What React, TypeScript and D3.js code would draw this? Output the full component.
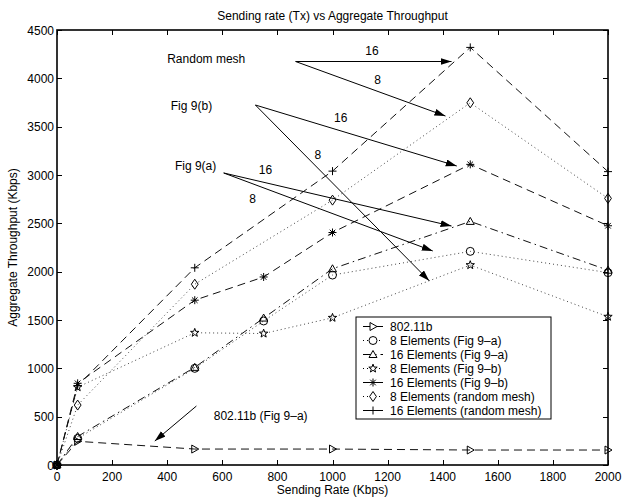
import { useRef, useEffect } from 'react';
import * as d3 from 'd3';

const W = 622;
const H = 498;

// x positions (Kbps) for each series
const rate802 = [0, 75, 500, 1000, 1500, 2000];
const rateGrid = [0, 75, 500, 750, 1000, 1500, 2000];
const rateMesh = [0, 75, 500, 1000, 1500, 2000];

// aggregate throughput (Kbps)
const tput802 = [0, 245, 165, 165, 155, 155];
const fig9a8 = [0, 275, 1000, 1490, 1965, 2210, 1990];
const fig9a16 = [0, 295, 1010, 1520, 2030, 2520, 2015];
const fig9b8 = [0, 805, 1368, 1360, 1523, 2068, 1534];
const fig9b16 = [0, 845, 1705, 1945, 2405, 3110, 2475];
const mesh8 = [0, 620, 1870, 2740, 3747, 2758];
const mesh16 = [0, 820, 2040, 3040, 4320, 3035];

const seriesNames = [
  '802.11b',
  '8 Elements (Fig 9\u2013a)',
  '16 Elements (Fig 9\u2013a)',
  '8 Elements (Fig 9\u2013b)',
  '16 Elements (Fig 9\u2013b)',
  '8 Elements (random mesh)',
  '16 Elements (random mesh)',
];

const xTicks = d3.range(0, 2001, 200);
const yTicks = d3.range(0, 4501, 500);

// annotation text (data coords)
const annoText = [
  { text: 'Random mesh', x: 400, y: 4210, anchor: 'start' },
  { text: 'Fig 9(b)', x: 413, y: 3724, anchor: 'start' },
  { text: 'Fig 9(a)', x: 428, y: 3103, anchor: 'start' },
  { text: '802.11b (Fig 9\u2013a)', x: 569, y: 510, anchor: 'start' },
  { text: '16', x: 1143, y: 4293, anchor: 'middle' },
  { text: '8', x: 1164, y: 3983, anchor: 'middle' },
  { text: '16', x: 1030, y: 3590, anchor: 'middle' },
  { text: '8', x: 947, y: 3207, anchor: 'middle' },
  { text: '16', x: 757, y: 3062, anchor: 'middle' },
  { text: '8', x: 710, y: 2752, anchor: 'middle' },
];

// arrows (data coords): from -> to
const annoArrows = [
  [866, 4174, 1432, 4174],
  [866, 4174, 1410, 3610],
  [720, 3724, 1451, 3093],
  [720, 3724, 1351, 1906],
  [605, 3021, 1432, 2472],
  [605, 3021, 1364, 2214],
  [506, 610, 355, 248],
];

type Marker = 'tri-right' | 'circle' | 'tri-up' | 'star' | 'asterisk' | 'diamond' | 'plus';

function markerPath(m: Marker, r: number): string {
  switch (m) {
    case 'circle':
      return `M${r},0A${r},${r} 0 1,1 ${-r},0A${r},${r} 0 1,1 ${r},0Z`;
    case 'tri-up':
      return `M0,${-r}L${r},${r * 0.75}L${-r},${r * 0.75}Z`;
    case 'tri-right':
      return `M${r},0L${-r * 0.75},${-r}L${-r * 0.75},${r}Z`;
    case 'diamond':
      return `M0,${-r * 1.25}L${r * 0.85},0L0,${r * 1.25}L${-r * 0.85},0Z`;
    case 'plus':
      return `M${-r},0L${r},0M0,${-r}L0,${r}`;
    case 'asterisk': {
      const d = r * 0.7;
      return `M${-r},0L${r},0M0,${-r}L0,${r}M${-d},${-d}L${d},${d}M${-d},${d}L${d},${-d}`;
    }
    case 'star': {
      const pts: string[] = [];
      for (let i = 0; i < 10; i++) {
        const a = -Math.PI / 2 + (i * Math.PI) / 5;
        const rr = i % 2 === 0 ? r * 1.1 : r * 0.45;
        pts.push(`${rr * Math.cos(a)},${rr * Math.sin(a)}`);
      }
      return `M${pts.join('L')}Z`;
    }
  }
}

export default function App() {
  const svgRef = useRef<SVGSVGElement>(null);

  useEffect(() => {
    const svg = d3.select(svgRef.current);
    svg.selectAll('*').remove();

    const font = "'Liberation Sans', Arial, Helvetica, sans-serif";
    const fs = 12;
    const pad = { top: 30, right: 14, bottom: 33, left: 57 };
    const pw = W - pad.left - pad.right;
    const ph = H - pad.top - pad.bottom;

    const x = d3.scaleLinear().domain([0, 2000]).range([pad.left, pad.left + pw]);
    const y = d3.scaleLinear().domain([0, 4500]).range([pad.top + ph, pad.top]);

    svg.append('rect').attr('width', W).attr('height', H).attr('fill', '#fff');

    const defs = svg.append('defs');
    defs.append('marker')
      .attr('id', 'ah').attr('markerUnits', 'userSpaceOnUse')
      .attr('markerWidth', 12).attr('markerHeight', 8)
      .attr('refX', 11).attr('refY', 3.5).attr('orient', 'auto')
      .append('path').attr('d', 'M0,0L11,3.5L0,7Z').attr('fill', '#000');

    // Ticks inward on all four sides
    const tl = 5;
    const tickG = svg.append('g').attr('stroke', '#000').attr('stroke-width', 1);
    xTicks.forEach(t => {
      const xp = Math.round(x(t)) + 0.5;
      tickG.append('line').attr('x1', xp).attr('x2', xp).attr('y1', y(0)).attr('y2', y(0) - tl);
      tickG.append('line').attr('x1', xp).attr('x2', xp).attr('y1', y(4500)).attr('y2', y(4500) + tl);
    });
    yTicks.forEach(t => {
      const yp = Math.round(y(t)) + 0.5;
      tickG.append('line').attr('x1', x(0)).attr('x2', x(0) + tl).attr('y1', yp).attr('y2', yp);
      tickG.append('line').attr('x1', x(2000)).attr('x2', x(2000) - tl).attr('y1', yp).attr('y2', yp);
    });

    // Tick labels
    xTicks.forEach(t => {
      svg.append('text').attr('x', x(t)).attr('y', y(0) + 16)
        .attr('text-anchor', 'middle').attr('font-family', font).attr('font-size', fs)
        .text(t);
    });
    yTicks.forEach(t => {
      svg.append('text').attr('x', x(0) - 3).attr('y', y(t) + 4.5)
        .attr('text-anchor', 'end').attr('font-family', font).attr('font-size', fs)
        .text(t);
    });

    // Series
    const series: { xs: number[]; ys: number[]; dash: string; marker: Marker }[] = [
      { xs: rate802, ys: tput802, dash: '8,5', marker: 'tri-right' },
      { xs: rateGrid, ys: fig9a8, dash: '1,3', marker: 'circle' },
      { xs: rateGrid, ys: fig9a16, dash: '8,4,1.5,4', marker: 'tri-up' },
      { xs: rateGrid, ys: fig9b8, dash: '1,3', marker: 'star' },
      { xs: rateGrid, ys: fig9b16, dash: '8,5', marker: 'asterisk' },
      { xs: rateMesh, ys: mesh8, dash: '1,3', marker: 'diamond' },
      { xs: rateMesh, ys: mesh16, dash: '8,5', marker: 'plus' },
    ];

    const lineGen = d3.line<[number, number]>().x(d => x(d[0])).y(d => y(d[1]));

    series.forEach(s => {
      const pts = s.xs.map((v, i) => [v, s.ys[i]] as [number, number]);
      const isDot = s.dash === '1,3';
      svg.append('path').datum(pts).attr('d', lineGen)
        .attr('fill', 'none').attr('stroke', isDot ? '#444' : '#111')
        .attr('stroke-width', 1).attr('stroke-dasharray', s.dash);
      pts.forEach(p => {
        svg.append('path').attr('d', markerPath(s.marker, 4))
          .attr('transform', `translate(${x(p[0])},${y(p[1])})`)
          .attr('fill', 'none').attr('stroke', '#000').attr('stroke-width', 1);
      });
    });

    // Frame
    svg.append('rect').attr('x', x(0)).attr('y', y(4500))
      .attr('width', x(2000) - x(0)).attr('height', y(0) - y(4500))
      .attr('fill', 'none').attr('stroke', '#000').attr('stroke-width', 1.6);

    // Annotations
    annoArrows.forEach(a => {
      svg.append('line')
        .attr('x1', x(a[0])).attr('y1', y(a[1])).attr('x2', x(a[2])).attr('y2', y(a[3]))
        .attr('stroke', '#000').attr('stroke-width', 1).attr('marker-end', 'url(#ah)');
    });
    annoText.forEach(t => {
      svg.append('text').attr('x', x(t.x)).attr('y', y(t.y) + 4.5)
        .attr('text-anchor', t.anchor).attr('font-family', font).attr('font-size', fs)
        .text(t.text);
    });

    // Legend
    const lg = { x: 356, y: 317, w: 195, h: 102, row: 14 };
    svg.append('rect').attr('x', lg.x).attr('y', lg.y).attr('width', lg.w).attr('height', lg.h)
      .attr('fill', '#fff').attr('stroke', '#000').attr('stroke-width', 1);
    series.forEach((s, i) => {
      const cy = lg.y + 9.5 + i * lg.row;
      svg.append('line').attr('x1', lg.x + 7).attr('x2', lg.x + 27).attr('y1', cy).attr('y2', cy)
        .attr('stroke', '#000').attr('stroke-width', 1)
        .attr('stroke-dasharray', s.dash === '1,3' ? '1,3' : s.dash === '8,5' ? null : '8,4,1.5,4');
      svg.append('path').attr('d', markerPath(s.marker, 4))
        .attr('transform', `translate(${lg.x + 17},${cy})`)
        .attr('fill', '#fff').attr('stroke', '#000').attr('stroke-width', 1);
      svg.append('text').attr('x', lg.x + 34).attr('y', cy + 4.5)
        .attr('font-family', font).attr('font-size', fs).text(seriesNames[i]);
    });

    // Titles
    svg.append('text').attr('x', (x(0) + x(2000)) / 2).attr('y', 20)
      .attr('text-anchor', 'middle').attr('font-family', font).attr('font-size', fs)
      .text('Sending rate (Tx) vs Aggregate Throughput');
    svg.append('text').attr('x', (x(0) + x(2000)) / 2).attr('y', 494)
      .attr('text-anchor', 'middle').attr('font-family', font).attr('font-size', fs)
      .text('Sending Rate (Kbps)');
    svg.append('text')
      .attr('transform', `translate(17,${(y(0) + y(4500)) / 2}) rotate(-90)`)
      .attr('text-anchor', 'middle').attr('font-family', font).attr('font-size', fs)
      .text('Aggregate Throughput (Kbps)');
  }, []);

  return (
    <div style={{ position: 'absolute', left: 0, top: 0 }}>
      <svg ref={svgRef} width={W} height={H} style={{ display: 'block' }} />
    </div>
  );
}
